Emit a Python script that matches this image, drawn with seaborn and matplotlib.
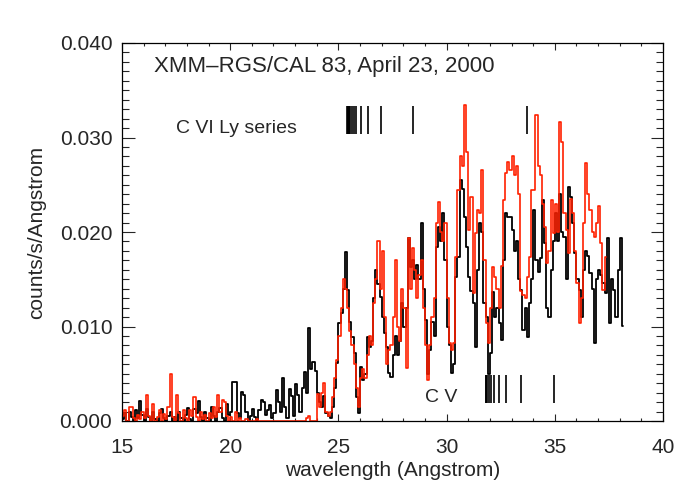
import matplotlib
matplotlib.use("Agg")
import matplotlib.pyplot as plt
import seaborn as sns
import pandas as pd
import numpy as np
from matplotlib.ticker import MultipleLocator

# binned spectra, 0.1 Angstrom bins, units of 1e-3 counts/s/Angstrom
bin_start = 15.0
bin_width = 0.1

black_counts = [
    0.2, 0.8, 0.0, 1.0, 0.4, 0.0, 1.2, 0.3, 2.1, 0.6,        # 15
    0.0, 1.3, 0.4, 0.0, 1.0, 0.2, 0.0, 0.8, 1.3, 0.3,        # 16
    0.0, 0.5, 1.0, 0.0, 0.4, 0.0, 0.9, 0.3, 0.0, 0.6,        # 17
    1.4, 0.2, 0.0, 1.3, 0.8, 2.1, 0.4, 0.0, 1.0, 0.3,        # 18
    0.0, 1.5, 0.5, 0.0, 1.0, 1.4, 0.3, 0.0, 1.8, 0.6,        # 19
    1.0, 4.1, 4.1, 0.8, 0.3, 3.1, 2.8, 1.0, 0.0, 0.5,        # 20
    1.3, 0.4, 0.0, 1.2, 2.2, 2.0, 0.6, 1.2, 1.7, 0.3,        # 21
    0.8, 3.3, 2.0, 1.0, 4.5, 1.5, 0.3, 3.4, 2.6, 0.5,        # 22
    3.9, 2.8, 1.0, 3.5, 5.2, 3.0, 9.8, 5.5, 6.2, 5.3,        # 23
    3.0, 2.0, 1.5, 2.6, 0.8, 0.5, 0.3, 1.5, 3.5, 6.1,        # 24
    10.4, 11.4, 14.0, 17.9, 13.9, 10.5, 8.9, 7.2, 2.5, 0.8,  # 25
    5.7, 4.3, 5.0, 8.9, 7.8, 8.5, 13.0, 16.0, 14.5, 13.1,    # 26
    11.0, 9.3, 7.8, 5.1, 4.7, 7.0, 9.0, 7.0, 8.5, 12.5,      # 27
    10.0, 12.0, 19.4, 16.3, 17.0, 15.0, 16.5, 15.0, 21.0, 14.0,  # 28
    10.7, 5.0, 7.5, 10.5, 9.0, 18.4, 20.5, 19.0, 22.0, 17.0,     # 29
    10.0, 8.0, 5.1, 6.0, 15.2, 17.4, 25.5, 24.5, 21.6, 18.4,     # 30
    15.2, 13.8, 12.5, 7.8, 16.0, 21.0, 20.0, 12.5, 11.0, 5.0,    # 31
    7.2, 13.6, 11.0, 12.0, 10.4, 8.6, 17.0, 22.0, 21.6, 21.6,    # 32
    20.2, 18.0, 19.0, 15.0, 13.9, 9.6, 12.0, 8.9, 12.5, 15.0,    # 33
    22.3, 17.0, 15.8, 17.3, 23.4, 18.8, 12.0, 11.0, 16.0, 19.0,  # 34
    22.0, 19.0, 24.0, 20.0, 19.5, 15.0, 24.8, 23.7, 21.0, 17.8,  # 35
    15.0, 13.9, 11.0, 16.0, 18.0, 17.5, 15.7, 14.0, 8.3, 15.0,   # 36
    16.0, 15.5, 14.6, 13.5, 19.4, 10.4, 15.0, 13.9, 11.0, 16.0,  # 37
    19.4, 10.1,                                                  # 38
]

red_counts = [
    0.5, 1.2, 0.0, 1.5, 1.5, 0.3, 0.0, 0.6, 0.2, 0.9,        # 15
    0.3, 2.7, 0.5, 0.0, 1.8, 0.0, 0.4, 1.2, 0.0, 0.7,        # 16
    0.2, 1.5, 5.0, 0.4, 0.0, 2.7, 0.8, 0.0, 1.2, 0.3,        # 17
    0.0, 1.2, 0.5, 2.5, 0.4, 0.0, 1.0, 0.2, 0.6, 0.0,        # 18
    0.8, 0.3, 1.5, 0.4, 2.7, 1.0, 2.2, 2.0, 0.5, 0.0,        # 19
    0.4, 0.0, 1.0, 0.0, 0.3, 0.0, 0.0, 0.2, 0.0, 0.0,        # 20
    0.0, 0.0, 0.2, 0.0, 0.0, 0.0, 0.0, 0.0, 0.0, 0.0,        # 21
    0.0, 0.0, 0.0, 0.0, 0.0, 0.0, 0.0, 0.0, 0.0, 0.0,        # 22
    0.0, 0.0, 0.0, 0.0, 0.0, 0.3, 0.5, 0.0, 0.0, 0.0,        # 23
    2.9, 1.5, 3.0, 4.0, 1.0, 0.5, 1.0, 2.5, 4.5, 6.5,        # 24
    9.0, 12.0, 15.0, 14.0, 12.0, 9.5, 8.0, 6.0, 3.5, 1.5,    # 25
    4.5, 5.5, 4.5, 7.0, 9.0, 8.0, 12.5, 15.0, 19.0, 14.0,    # 26
    18.0, 11.0, 6.0, 7.5, 8.0, 11.0, 17.0, 10.0, 8.5, 14.0,  # 27
    12.0, 5.6, 19.4, 14.0, 18.3, 16.0, 13.0, 15.5, 17.0, 12.0,   # 28
    8.0, 4.3, 8.0, 11.0, 13.0, 21.0, 23.2, 20.0, 19.0, 21.0,     # 29
    13.0, 8.3, 7.5, 8.3, 17.4, 24.4, 28.0, 27.0, 33.4, 28.5,     # 30
    20.2, 23.7, 13.5, 19.9, 22.3, 22.0, 26.6, 17.0, 10.4, 8.3,   # 31
    12.0, 16.3, 15.2, 14.0, 12.0, 16.4, 23.4, 26.2, 27.4, 26.6,  # 32
    28.0, 26.0, 27.0, 24.0, 13.8, 13.3, 13.0, 15.2, 17.4, 24.4,  # 33
    24.4, 32.4, 27.0, 26.0, 23.0, 20.5, 16.7, 18.0, 23.4, 19.9,  # 34
    23.0, 20.0, 31.6, 29.5, 22.0, 20.2, 17.8, 23.5, 22.0, 18.0,  # 35
    14.6, 10.4, 13.0, 21.0, 27.3, 24.0, 22.3, 20.0, 19.5, 21.0,  # 36
    22.7, 18.8, 13.9, 17.4,                                      # 37
]

# C VI Lyman series and C V (He-like) series line positions (Angstrom)
cvi_lines = [33.736, 28.466, 26.990, 26.357, 26.026, 25.830, 25.704,
             25.617, 25.556, 25.511, 25.477, 25.451, 25.430, 25.413]
cv_lines = [34.973, 33.426, 32.754, 32.397, 32.184, 32.047, 31.953,
            31.887, 31.838, 31.802]

title_text = "XMM\u2013RGS/CAL 83, April 23, 2000"


def make_frame(counts):
    n = len(counts)
    wl = bin_start + bin_width * (np.arange(n) + 0.5)
    return pd.DataFrame({"wavelength": wl, "flux": np.array(counts) * 1e-3})


sns.set_style("white")
plt.rcParams["font.family"] = ["Liberation Sans", "DejaVu Sans"]

fig = plt.figure(figsize=(7, 5), dpi=100)
ax = fig.add_axes([0.1743, 0.158, 0.7729, 0.756])

sns.lineplot(data=make_frame(black_counts), x="wavelength", y="flux", ax=ax,
             color="black", lw=1.3, drawstyle="steps-mid", estimator=None)
sns.lineplot(data=make_frame(red_counts), x="wavelength", y="flux", ax=ax,
             color="#ff2000", lw=1.2, drawstyle="steps-mid", estimator=None)

ax.vlines(cvi_lines, 0.0304, 0.0333, color="black", lw=1.2)
ax.vlines(cv_lines, 0.0019, 0.0049, color="black", lw=1.2)

ax.text(16.5, 0.0375, title_text, fontsize=16, va="center", ha="left")
ax.text(17.5, 0.0309, "C VI Ly series", fontsize=14, va="center", ha="left")
ax.text(29.0, 0.0025, "C V", fontsize=14, va="center", ha="left")

ax.set_xlim(15, 40)
ax.set_ylim(0, 0.040)
ax.xaxis.set_major_locator(MultipleLocator(5))
ax.xaxis.set_minor_locator(MultipleLocator(1))
ax.yaxis.set_major_locator(MultipleLocator(0.01))
ax.yaxis.set_minor_locator(MultipleLocator(0.001))
ax.yaxis.set_major_formatter(matplotlib.ticker.FormatStrFormatter("%.3f"))

ax.tick_params(axis="x", which="major", direction="in", length=5, width=0.8,
               top=True, bottom=True, labelsize=15, pad=12)
ax.tick_params(axis="x", which="minor", direction="in", length=2.5, width=0.8,
               top=True, bottom=True)
ax.tick_params(axis="y", which="major", direction="in", length=9, width=0.8,
               left=True, right=True, labelsize=15, pad=7)
ax.tick_params(axis="y", which="minor", direction="in", length=5, width=0.8,
               left=True, right=True)
for spine in ax.spines.values():
    spine.set_linewidth(0.9)
    spine.set_color("black")

ax.set_xlabel("wavelength (Angstrom)", fontsize=15, labelpad=3)
ax.set_ylabel("counts/s/Angstrom", fontsize=15, labelpad=10)

fig.savefig("out.png", dpi=100)
